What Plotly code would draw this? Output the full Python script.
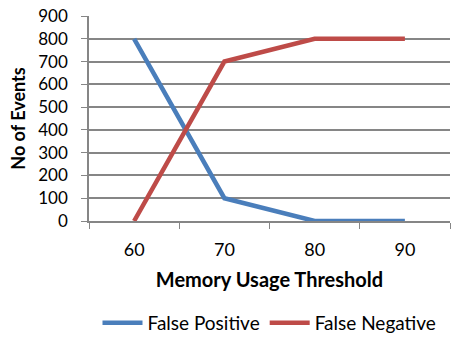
import plotly.graph_objects as go

categories = ["60", "70", "80", "90"]
false_positive = [800, 100, 0, 0]
false_negative = [0, 700, 800, 800]
y_ticks = [0, 100, 200, 300, 400, 500, 600, 700, 800, 900]

FONT = "Lato, 'Open Sans', sans-serif"
GRID = "#868686"

fig = go.Figure()
fig.add_trace(go.Scatter(x=categories, y=false_positive, mode="lines", name="False Positive",
                         line=dict(color="#4A7EBB", width=4.5)))
fig.add_trace(go.Scatter(x=categories, y=false_negative, mode="lines", name="False Negative",
                         line=dict(color="#BE4B48", width=4.5)))

fig.update_layout(
    width=463, height=337,
    margin=dict(l=89, r=13, t=16, b=116, autoexpand=False),
    paper_bgcolor="white", plot_bgcolor="white",
    font=dict(family=FONT, size=17, color="black"),
    showlegend=True,
    legend=dict(orientation="h", x=0.5, xanchor="center", yref="container",
                y=0.042, yanchor="middle", font=dict(size=19), itemwidth=40),
)
fig.update_xaxes(
    type="category", range=[-0.5, 3.5], automargin=False,
    showline=True, linecolor=GRID, linewidth=1.5,
    ticks="outside", ticklen=6, tickcolor=GRID, tickson="boundaries",
    showgrid=False, tickfont=dict(size=18), ticklabelstandoff=12,
    title=dict(text="<b>Memory Usage Threshold</b>", font=dict(size=20), standoff=14),
)
fig.update_yaxes(
    range=[0, 900], tickvals=y_ticks, automargin=False,
    showline=True, linecolor=GRID, linewidth=1.5,
    ticks="outside", ticklen=6, tickcolor=GRID,
    showgrid=True, gridcolor=GRID, gridwidth=1.5, zeroline=False,
    tickfont=dict(size=17), ticklabelstandoff=10,
    title=dict(text="<b>No of Events</b>", font=dict(size=18), standoff=8),
)

fig.write_html("out.html")
